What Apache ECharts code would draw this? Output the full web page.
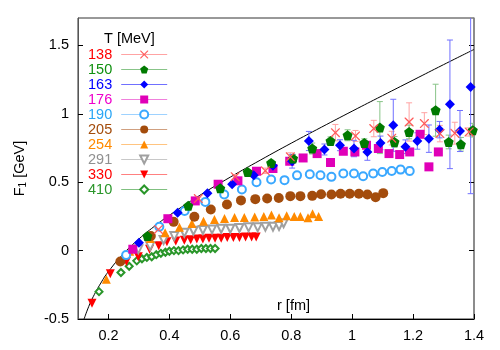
<!DOCTYPE html>
<html>
<head>
<meta charset="utf-8">
<script src="https://cdn.jsdelivr.net/npm/echarts@6/dist/echarts.min.js"></script>
<style>
  html, body { margin: 0; padding: 0; background: #fff; }
  #chart { width: 500px; height: 350px; }
</style>
</head>
<body>
<div id="chart"></div>
<script>
// values: r [fm], F1 [GeV], error
var r138 = [0.364, 0.495, 0.616, 0.715, 0.797, 0.945, 1.011, 1.071, 1.130, 1.187, 1.237, 1.288, 1.337, 1.384];
var f138 = [0.155, 0.38, 0.54, 0.583, 0.685, 0.862, 0.838, 0.892, 0.822, 0.94, 0.928, 0.855, 0.858, 0.867];
var e138 = [0.005, 0.01, 0.015, 0.02, 0.03, 0.06, 0.04, 0.06, 0.05, 0.14, 0.08, 0.06, 0.08, 0.03];

var r150 = [0.328, 0.462, 0.567, 0.657, 0.734, 0.806, 0.869, 0.929, 0.985, 1.04, 1.091, 1.139, 1.187, 1.274, 1.317, 1.357, 1.396];
var f150 = [0.106, 0.327, 0.455, 0.575, 0.64, 0.673, 0.746, 0.801, 0.843, 0.787, 0.899, 0.794, 0.867, 1.026, 0.794, 0.777, 0.88];
var e150 = [0.005, 0.01, 0.01, 0.015, 0.02, 0.03, 0.04, 0.03, 0.04, 0.03, 0.19, 0.04, 0.05, 0.19, 0.05, 0.05, 0.05];

var r163 = [0.30, 0.427, 0.525, 0.606, 0.677, 0.74, 0.803, 0.858, 0.909, 0.96, 1.006, 1.05, 1.093, 1.135, 1.175, 1.214, 1.252, 1.287, 1.321, 1.354, 1.389];
var f163 = [0.057, 0.276, 0.42, 0.485, 0.551, 0.62, 0.653, 0.801, 0.739, 0.77, 0.746, 0.72, 0.787, 0.916, 0.759, 0.801, 0.818, 0.884, 1.069, 0.874, 1.196];
var e163 = [0.005, 0.01, 0.01, 0.01, 0.015, 0.02, 0.05, 0.07, 0.04, 0.04, 0.06, 0.06, 0.05, 0.19, 0.05, 0.06, 0.1, 0.06, 0.47, 0.15, 0.78];

var r176 = [0.28, 0.395, 0.485, 0.56, 0.625, 0.686, 0.74, 0.795, 0.839, 0.885, 0.929, 0.971, 1.009, 1.047, 1.086, 1.121, 1.156, 1.189, 1.223, 1.252, 1.283];
var f176 = [0.01, 0.233, 0.363, 0.485, 0.51, 0.58, 0.60, 0.653, 0.677, 0.709, 0.644, 0.726, 0.721, 0.77, 0.746, 0.709, 0.702, 0.721, 0.85, 0.612, 0.721];

var r190 = [0.258, 0.367, 0.45, 0.518, 0.580, 0.638, 0.686, 0.734, 0.778, 0.819, 0.861, 0.896, 0.932, 0.971, 1.006, 1.036, 1.069, 1.099, 1.130, 1.159, 1.189];
var f190 = [-0.033, 0.174, 0.29, 0.356, 0.41, 0.447, 0.50, 0.52, 0.515, 0.55, 0.558, 0.551, 0.539, 0.563, 0.563, 0.544, 0.563, 0.575, 0.582, 0.592, 0.582];
var e190 = [0.005, 0.008, 0.01, 0.012, 0.015, 0.015, 0.02, 0.02, 0.02, 0.025, 0.025, 0.02, 0.02, 0.025, 0.025, 0.025, 0.025, 0.025, 0.025, 0.03, 0.03];

var r205 = [0.239, 0.339, 0.414, 0.482, 0.536, 0.589, 0.635, 0.682, 0.721, 0.759, 0.797, 0.83, 0.869, 0.898, 0.932, 0.962, 0.992, 1.022, 1.05, 1.077, 1.102];
var f205 = [-0.08, 0.106, 0.21, 0.247, 0.30, 0.337, 0.367, 0.376, 0.381, 0.385, 0.398, 0.398, 0.40, 0.412, 0.41, 0.415, 0.415, 0.415, 0.41, 0.39, 0.42];

var r254 = [0.193, 0.27, 0.337, 0.386, 0.433, 0.474, 0.512, 0.548, 0.581, 0.614, 0.646, 0.68, 0.71, 0.735, 0.76, 0.785, 0.81, 0.83, 0.855, 0.87, 0.89];
var f254 = [-0.21, -0.005, 0.089, 0.13, 0.17, 0.198, 0.215, 0.228, 0.235, 0.242, 0.242, 0.245, 0.25, 0.26, 0.24, 0.255, 0.25, 0.25, 0.24, 0.27, 0.25];

var r291 = [0.298, 0.337, 0.381, 0.416, 0.449, 0.479, 0.51, 0.54, 0.57, 0.60, 0.63, 0.66, 0.69, 0.715, 0.74, 0.76, 0.775];
var f291 = [0.009, 0.033, 0.077, 0.106, 0.13, 0.145, 0.15, 0.155, 0.16, 0.16, 0.165, 0.17, 0.17, 0.175, 0.175, 0.18, 0.2];

var r330 = [0.146, 0.206, 0.259, 0.298, 0.335, 0.365, 0.392, 0.421, 0.449, 0.47, 0.49, 0.51, 0.53, 0.55, 0.57, 0.59, 0.61, 0.63, 0.65, 0.67, 0.685];
var f330 = [-0.385, -0.17, -0.08, -0.045, 0.009, 0.035, 0.064, 0.07, 0.075, 0.08, 0.085, 0.085, 0.09, 0.09, 0.09, 0.095, 0.095, 0.095, 0.1, 0.1, 0.1];

var r410 = [0.169, 0.241, 0.268, 0.293, 0.31, 0.326, 0.342, 0.357, 0.372, 0.387, 0.40, 0.415, 0.43, 0.445, 0.46, 0.475, 0.49, 0.505, 0.52, 0.535, 0.55];
var f410 = [-0.30, -0.16, -0.115, -0.075, -0.06, -0.05, -0.045, -0.03, -0.02, -0.012, -0.005, 0.0, 0.0, 0.005, 0.01, 0.01, 0.01, 0.015, 0.015, 0.015, 0.015];

// black curve, read along its path
var rCurve = [0.12, 0.135, 0.15, 0.175, 0.2, 0.25, 0.3, 0.35, 0.4, 0.5, 0.6, 0.7, 0.8, 0.9, 1.0, 1.1, 1.2, 1.3, 1.4];
var fCurve = [-0.5, -0.41, -0.337, -0.237, -0.153, -0.021, 0.085, 0.176, 0.258, 0.404, 0.537, 0.663, 0.785, 0.903, 1.019, 1.133, 1.246, 1.359, 1.47];

var xTicks = [0.2, 0.4, 0.6, 0.8, 1, 1.2, 1.4];
var yTicks = [-0.5, 0, 0.5, 1, 1.5];

var xPath = 'path://M0,0L2,0L10,8L18,0L20,0L20,2L12,10L20,18L20,20L18,20L10,12L2,20L0,20L0,18L8,10L0,2Z';
var pentPath = 'path://M10,0L20,7.3L16.2,19L3.8,19L0,7.3Z';

var sets = [
  { name: '138', r: r138, f: f138, e: e138, color: '#ff5a5a', bar: '#ffa3a3', text: '#ff0000', symbol: xPath, size: 9 },
  { name: '150', r: r150, f: f150, e: e150, color: '#007a00', bar: '#88c488', text: '#109010', symbol: pentPath, size: 10 },
  { name: '163', r: r163, f: f163, e: e163, color: '#0000ff', bar: '#7070ff', text: '#0000ff', symbol: 'diamond', size: 10 },
  { name: '176', r: r176, f: f176, e: null, color: '#e000b8', bar: '#f080dc', text: '#ee00cc', symbol: 'rect', size: 9 },
  { name: '190', r: r190, f: f190, e: e190, color: '#3aa8ff', bar: '#9ed2ff', text: '#2aa6f5', symbol: 'emptyCircle', size: 8 },
  { name: '205', r: r205, f: f205, e: null, color: '#a34c0c', bar: '#d0a080', text: '#a34c0c', symbol: 'circle', size: 10 },
  { name: '254', r: r254, f: f254, e: null, color: '#ff8a00', bar: '#ffc480', text: '#ff8a00', symbol: 'triangle', size: 9 },
  { name: '291', r: r291, f: f291, e: null, color: '#a0a0a0', bar: '#c8c8c8', text: '#909090', symbol: 'emptyTriangle', size: 8, rot: 180 },
  { name: '330', r: r330, f: f330, e: null, color: '#ff0000', bar: '#ff8080', text: '#ff0000', symbol: 'triangle', size: 9, rot: 180 },
  { name: '410', r: r410, f: f410, e: null, color: '#2a962a', bar: '#80c080', text: '#2a962a', symbol: 'emptyDiamond', size: 7 }
];

function errRender(params, api) {
  var a = api.coord([api.value(0), api.value(1)]);
  var b = api.coord([api.value(0), api.value(2)]);
  var w = 3;
  var st = { stroke: api.visual('color'), lineWidth: 1 };
  return {
    type: 'group',
    children: [
      { type: 'line', shape: { x1: a[0], y1: a[1], x2: b[0], y2: b[1] }, style: st },
      { type: 'line', shape: { x1: a[0] - w, y1: a[1], x2: a[0] + w, y2: a[1] }, style: st },
      { type: 'line', shape: { x1: b[0] - w, y1: b[1], x2: b[0] + w, y2: b[1] }, style: st }
    ]
  };
}

var series = [];
var legendData = [];

series.push({
  type: 'line',
  data: rCurve.map(function (v, i) { return [v, fCurve[i]]; }),
  showSymbol: false,
  smooth: true,
  lineStyle: { color: '#000', width: 1 },
  silent: true,
  z: 1
});

sets.forEach(function (s, k) {
  if (s.e) {
    series.push({
      type: 'custom',
      renderItem: errRender,
      itemStyle: { color: s.bar },
      data: s.r.map(function (v, i) { return [v, s.f[i] - s.e[i], s.f[i] + s.e[i]]; }),
      encode: { x: 0, y: [1, 2] },
      clip: true,
      silent: true,
      z: 2
    });
  }
  series.push({
    name: s.name,
    type: 'line',
    data: s.r.map(function (v, i) { return [v, s.f[i]]; }),
    symbol: s.symbol,
    symbolSize: s.size,
    symbolRotate: s.rot || 0,
    showSymbol: true,
    itemStyle: { color: s.color, borderWidth: s.symbol.indexOf('empty') === 0 ? 1 : 0 },
    lineStyle: { width: 0, opacity: 0 },
    silent: true,
    z: 3 + (10 - k)
  });
  legendData.push({
    name: s.name,
    textStyle: { color: s.text },
    lineStyle: { color: s.bar, width: 1, opacity: 1 }
  });
});

var chart = echarts.init(document.getElementById('chart'));
var option = {
  animation: false,
  backgroundColor: '#fff',
  textStyle: { fontFamily: 'Liberation Sans, Arial, sans-serif' },
  grid: { left: 78, right: 26, top: 18, bottom: 31, show: true, borderColor: '#333', borderWidth: 1 },
  title: {
    text: 'T [MeV]', left: 99, top: 26,
    textStyle: { fontSize: 14.5, fontWeight: 'normal', color: '#000', fontFamily: 'Liberation Sans, Arial, sans-serif' }
  },
  legend: {
    data: legendData,
    orient: 'vertical',
    left: 88, top: 47,
    align: 'right',
    itemWidth: 46, itemHeight: 10, itemGap: 0,
    padding: 0,
    textStyle: { fontSize: 14.5, lineHeight: 10, padding: [0, 4, 0, 0] },
    selectedMode: false
  },
  xAxis: {
    type: 'value', min: 0.1, max: 1.4,
    axisLine: { onZero: false, lineStyle: { color: '#000' } },
    axisTick: { inside: true, length: 5, lineStyle: { color: '#000' }, customValues: xTicks },
    axisLabel: { color: '#000', fontSize: 14.5, margin: 9, customValues: xTicks },
    splitLine: { show: false }
  },
  yAxis: [{
    type: 'value', min: -0.5, max: 1.7,
    name: 'F{s|1} [GeV]', nameLocation: 'middle', nameGap: 50,
    nameTextStyle: { color: '#000', fontSize: 14.5, rich: { s: { fontSize: 10, verticalAlign: 'bottom', padding: [6, 0, 0, 0] } } },
    axisLine: { show: true, onZero: false, lineStyle: { color: '#555' } },
    axisTick: { inside: true, length: 5, lineStyle: { color: '#000' }, customValues: yTicks },
    axisLabel: { color: '#000', fontSize: 14.5, margin: 9, customValues: yTicks },
    splitLine: { show: false }
  }, {
    type: 'value', min: -0.5, max: 1.7, position: 'right',
    axisLine: { show: true, onZero: false, lineStyle: { color: '#888', width: 1.5 } },
    axisTick: { inside: true, length: 5, lineStyle: { color: '#000' }, customValues: yTicks },
    axisLabel: { show: false },
    splitLine: { show: false }
  }],
  graphic: [{
    type: 'text', left: 277, top: 298,
    style: { text: 'r [fm]', font: '14.5px Liberation Sans, Arial, sans-serif', fill: '#000' }
  }],
  series: series
};
chart.setOption(option);
</script>
</body>
</html>
